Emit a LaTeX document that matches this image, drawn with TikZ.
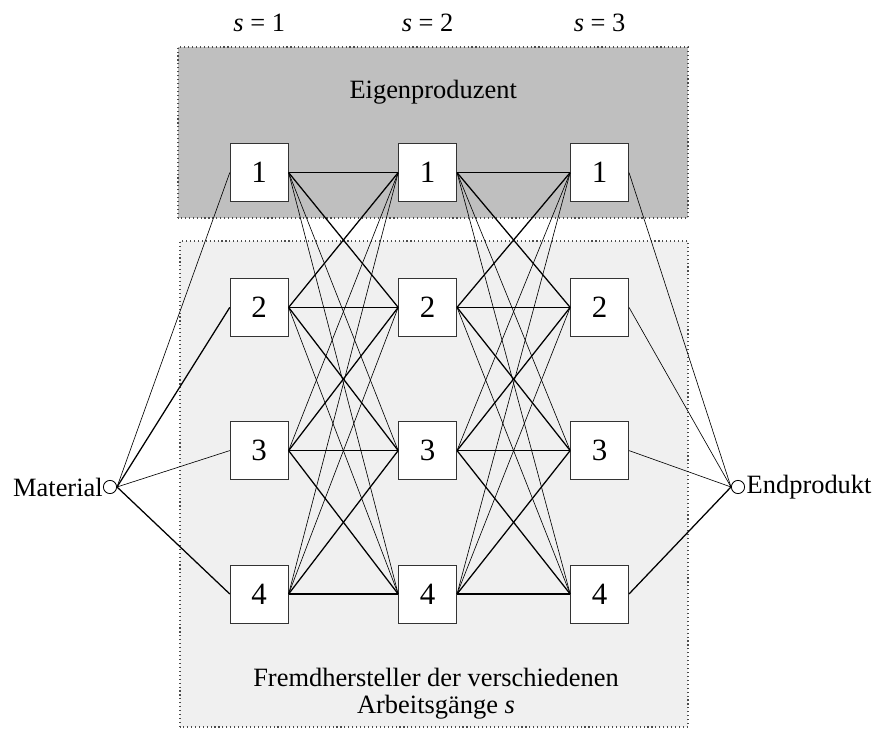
\documentclass[tikz,border=0pt]{standalone}
\usepackage{fontspec}
\setmainfont{Liberation Serif}
\usepackage{tikz}

\tikzset{
  firm/.style={draw=black!80, line width=0.6pt, fill=white, minimum width=1.45cm,
    minimum height=1.45cm, inner sep=0pt, font=\fontsize{22}{26}\selectfont},
  knot/.style={circle, draw, line width=0.6pt, fill=white, minimum size=0.33cm, inner sep=0pt},
  area/.style={dotted, draw=black!70, line width=0.8pt},
  strong/.style={line width=0.9pt},
  weak/.style={line width=0.45pt}
}

\begin{document}
\begin{tikzpicture}[font=\fontsize{18.8}{22}\selectfont]
    \useasboundingbox (0,0) rectangle (21.9,18.225);
    % Bereiche
    \draw[area, fill=black!25] (4.45,12.775) rectangle (17.2,17.05);
    \draw[area, fill=black!6] (4.5,0.05) rectangle (17.2,12.2);
    \node (eigen) at (10.83,15.93) {Eigenproduzent};
    \node[align=center] (fremd) at (10.9,0.89) {Fremdhersteller der verschiedenen\\[-3pt]Arbeitsgänge \textit{s}};

    % Arbeitsgaenge
    \node (s1) at (6.48,17.65) {\textit{s} = 1};
    \node (s2) at (10.69,17.65) {\textit{s} = 2};
    \node (s3) at (14.99,17.65) {\textit{s} = 3};

    \node[firm] (a1) at (6.48,13.91) {1};
    \node[firm] (a2) at (6.48,10.54) {2};
    \node[firm] (a3) at (6.48,6.96) {3};
    \node[firm] (a4) at (6.48,3.375) {4};
    \node[firm] (b1) at (10.69,13.91) {1};
    \node[firm] (b2) at (10.69,10.54) {2};
    \node[firm] (b3) at (10.69,6.96) {3};
    \node[firm] (b4) at (10.69,3.375) {4};
    \node[firm] (c1) at (14.99,13.91) {1};
    \node[firm] (c2) at (14.99,10.54) {2};
    \node[firm] (c3) at (14.99,6.96) {3};
    \node[firm] (c4) at (14.99,3.375) {4};

    \node[knot] (mat) at (2.75,6.05) {};
    \node[anchor=east, inner sep=0pt] (matlabel) at (mat.west) {Material};
    \node[knot] (prod) at (18.45,6.05) {};
    \node[anchor=west, inner sep=1pt] (prodlabel) at (prod.east) {Endprodukt};

    % Verbindungen
    \draw[weak] (mat.east) -- (a1.west);
    \draw[strong] (mat.east) -- (a2.west);
    \draw[weak] (mat.east) -- (a3.west);
    \draw[strong] (mat.east) -- (a4.west);
    \foreach \u/\v in {a/b,b/c} {
      \foreach \i/\j in {1/1,1/2,2/1,2/2,2/3,3/2,3/3,3/4,4/3,4/4}
        \draw[strong] (\u\i.east) -- (\v\j.west);
      \foreach \i/\j in {1/3,1/4,2/4,3/1,4/1,4/2}
        \draw[weak] (\u\i.east) -- (\v\j.west);
    }
    \draw[weak] (c1.east) -- (prod.west);
    \draw[weak] (c2.east) -- (prod.west);
    \draw[weak] (c3.east) -- (prod.west);
    \draw[strong] (c4.east) -- (prod.west);
\end{tikzpicture}
\end{document}
